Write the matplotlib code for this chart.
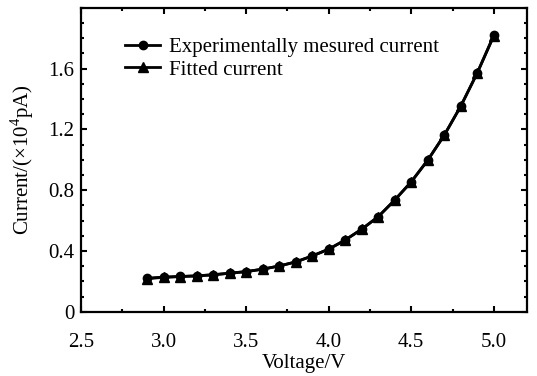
import numpy as np
import matplotlib
matplotlib.use("Agg")
import matplotlib.pyplot as plt
from matplotlib.ticker import MultipleLocator

plt.rcParams['font.family'] = ['Liberation Serif', 'DejaVu Serif']
plt.rcParams['mathtext.fontset'] = 'custom'
plt.rcParams['mathtext.rm'] = 'Liberation Serif'

voltage = [2.9, 3.0, 3.1, 3.2, 3.3, 3.4, 3.5, 3.6, 3.7, 3.8, 3.9,
           4.0, 4.1, 4.2, 4.3, 4.4, 4.5, 4.6, 4.7, 4.8, 4.9, 5.0]
measured = [0.220, 0.228, 0.232, 0.236, 0.243, 0.254, 0.264, 0.280, 0.301, 0.327, 0.367,
            0.411, 0.472, 0.543, 0.625, 0.735, 0.855, 0.998, 1.162, 1.353, 1.572, 1.820]
fitted = [0.218, 0.226, 0.231, 0.236, 0.243, 0.253, 0.264, 0.280, 0.301, 0.328, 0.367,
          0.412, 0.472, 0.543, 0.626, 0.735, 0.855, 0.997, 1.162, 1.353, 1.572, 1.815]

fig = plt.figure(figsize=(5.37, 3.76), dpi=100)
ax = fig.add_axes([0.151, 0.171, 0.83, 0.808])

ax.plot(voltage, measured, color='black', lw=2, marker='o', ms=6,
        label='Experimentally mesured current')
ax.plot(voltage, fitted, color='black', lw=2, marker='^', ms=7,
        label='Fitted current')

ax.set_xlim(2.5, 5.2)
ax.set_ylim(0, 2.0)
ax.xaxis.set_major_locator(MultipleLocator(0.5))
ax.xaxis.set_minor_locator(MultipleLocator(0.25))
ax.set_yticks([0, 0.4, 0.8, 1.2, 1.6])
ax.set_yticklabels(['0', '0.4', '0.8', '1.2', '1.6'])
ax.yaxis.set_minor_locator(MultipleLocator(0.1))
ax.tick_params(which='both', direction='in', top=True, right=True,
               width=1.5, labelsize=15)
ax.tick_params(which='major', length=4)
ax.tick_params(which='minor', length=2.5)
ax.tick_params(axis='x', pad=15)
ax.tick_params(axis='y', pad=5)
for s in ax.spines.values():
    s.set_linewidth(1.6)

ax.set_xlabel('Voltage/V', fontsize=15, labelpad=2)
ax.set_ylabel('Current/(×10$^{4}$pA)', fontsize=15, labelpad=9)

ax.legend(loc='upper left', bbox_to_anchor=(0.08, 0.93), frameon=False,
          fontsize=15, handlelength=1.7, handletextpad=0.4, labelspacing=0.15,
          borderaxespad=0)

fig.savefig('out.png', dpi=100)
